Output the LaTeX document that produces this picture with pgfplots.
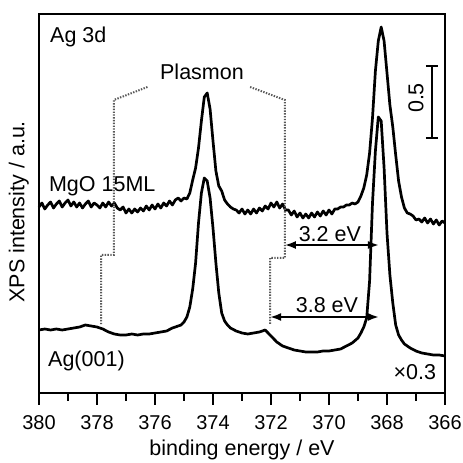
\documentclass[border=0pt]{standalone}
\usepackage{pgfplots}
\pgfplotsset{compat=1.18}
\usepackage{pgfplotstable}
\usepackage{fontspec}
\setmainfont{Liberation Sans}
\usetikzlibrary{arrows.meta}

% MgO 15ML on Ag(001), Ag 3d
\pgfplotstableread{
E I
380.0 186
379.9 190
379.8 184
379.7 188
379.6 191
379.5 185
379.4 189
379.3 192
379.2 186
379.1 190
379.0 193
378.9 187
378.8 191
378.7 186
378.6 190
378.5 185
378.4 189
378.3 192
378.2 186
378.1 190
378.0 188
377.9 185
377.8 190
377.7 186
377.6 191
377.5 187
377.4 190
377.3 185
377.2 183
377.1 186
377.0 180
376.9 184
376.8 180
376.7 184
376.6 181
376.5 185
376.4 182
376.3 187
376.2 183
376.1 188
376.0 184
375.9 189
375.8 185
375.7 190
375.6 187
375.5 192
375.4 188
375.3 193
375.2 195
375.1 192
375.0 195
374.9 194
374.8 200
374.7 213
374.6 225
374.5 245
374.4 272
374.3 296
374.2 300
374.1 284
374.0 252
373.9 222
373.8 207
373.7 202
373.6 193
373.5 189
373.4 186
373.3 184
373.2 183
373.1 180
373.0 184
372.9 179
372.8 183
372.7 179
372.6 184
372.5 180
372.4 185
372.3 182
372.2 187
372.1 184
372.0 190
371.9 186
371.8 191
371.7 185
371.6 189
371.5 183
371.4 183
371.3 178
371.2 182
371.1 176
371.0 180
370.9 175
370.8 179
370.7 175
370.6 180
370.5 176
370.4 181
370.3 177
370.2 182
370.1 178
370.0 183
369.9 179
369.8 184
369.7 184
369.6 186
369.5 186
369.4 188
369.3 188
369.2 190
369.1 189
369.0 191
368.9 197
368.8 205
368.7 218
368.6 240
368.5 275
368.4 322
368.3 352
368.2 366
368.1 352
368.0 320
367.9 288
367.8 266
367.7 238
367.6 212
367.5 196
367.4 185
367.3 180
367.2 179
367.1 177
367.0 173
366.9 174
366.8 171
366.7 175
366.6 170
366.5 174
366.4 169
366.3 173
366.2 168
366.1 172
366.0 170
}\mgo

% clean Ag(001), x0.3
\pgfplotstableread{
E I
380.0 63
379.8 64
379.6 63
379.4 64
379.2 63
379.0 64
378.8 65
378.6 66
378.4 68
378.2 67
378.0 66
377.8 64
377.6 61
377.4 59
377.2 58
377.0 58
376.8 59
376.6 58
376.4 59
376.2 59
376.0 60
375.8 61
375.6 62
375.4 65
375.2 67
375.1 68
375.0 71
374.9 76
374.8 86
374.7 104
374.6 130
374.5 170
374.4 200
374.3 215
374.2 212
374.1 195
374.0 165
373.9 130
373.8 100
373.7 80
373.6 72
373.5 68
373.4 65
373.2 62
373.0 60
372.8 59
372.6 60
372.4 61
372.2 63
372.1 60
372.0 57
371.8 51
371.6 47
371.4 45
371.2 43
371.0 42
370.8 41
370.6 41
370.4 41
370.2 42
370.0 42
369.8 43
369.6 44
369.4 47
369.2 50
369.0 55
368.9 60
368.8 66
368.7 75
368.6 112
368.5 190
368.4 242
368.3 276
368.2 272
368.1 225
368.0 160
367.9 118
367.8 90
367.7 68
367.6 58
367.5 53
367.4 49
367.2 45
367.0 42
366.8 40
366.6 39
366.4 38
366.2 38
366.0 37
}\agclean

\begin{document}
\begin{tikzpicture}
\begin{axis}[
 scale only axis,width=406pt,height=379pt,
 x dir=reverse,xmin=366,xmax=380,ymin=0,ymax=379,
 xtick={366,368,...,380},minor xtick={367,369,...,379},
 xtick pos=bottom,ytick=\empty,tick align=outside,
 major tick length=12pt,minor tick length=8pt,
 axis line style={line width=2.8pt},
 every tick/.style={black,line width=2.4pt},
 /pgf/number format/assume math mode=true,
 ticklabel style={font=\fontsize{20}{23}\selectfont},
 xticklabel style={anchor=north,inner sep=0pt,yshift=-10pt},
 label style={font=\fontsize{21.5}{25}\selectfont},
 xlabel={binding energy / eV},ylabel={XPS intensity / a.u.},
 xlabel style={at={(axis description cs:0.5,-0.1636)},anchor=base},
 ylabel style={at={(axis description cs:-0.05,0.478)},anchor=center},
 clip=false]
 \addplot[black,line width=2.7pt,line join=round] table[x=E,y=I] {\mgo};
 \addplot[black,line width=2.7pt,line join=round] table[x=E,y=I] {\agclean};
 % plasmon guides
 \draw[gray!70!black,dash pattern=on 1.4pt off 1.4pt,line width=2pt]
   (axis cs:376.26,306) -- (axis cs:377.42,293) -- (axis cs:377.42,138)
   -- (axis cs:377.86,138) -- (axis cs:377.86,68);
 \draw[gray!70!black,dash pattern=on 1.4pt off 1.4pt,line width=2pt]
   (axis cs:372.72,306) -- (axis cs:371.52,293) -- (axis cs:371.52,135)
   -- (axis cs:372.03,135) -- (axis cs:372.03,68);
 % shifts
 \draw[{Latex[length=11pt,width=8pt]}-{Latex[length=11pt,width=8pt]},line width=1.8pt]
   (axis cs:371.52,148) -- (axis cs:368.28,148);
 \draw[{Latex[length=11pt,width=8pt]}-{Latex[length=11pt,width=8pt]},line width=1.8pt]
   (axis cs:372.03,76) -- (axis cs:368.28,76);
 % scale bar
 \draw[line width=2.4pt] (axis cs:366.45,327) -- (axis cs:366.45,255);
 \draw[line width=2.4pt] (axis cs:366.66,327) -- (axis cs:366.24,327);
 \draw[line width=2.4pt] (axis cs:366.66,255) -- (axis cs:366.24,255);
 \begin{scope}[every node/.style={font=\fontsize{21.5}{25}\selectfont,inner sep=0pt}]
 \node[anchor=west] at (axis cs:379.62,356) {Ag 3d};
 \node at (axis cs:374.38,321) {Plasmon};
 \node[anchor=west] at (axis cs:379.66,207) {MgO 15ML};
 \node[anchor=west] at (axis cs:379.69,32) {Ag(001)};
 \node[anchor=east] at (axis cs:366.30,21) {×0.3};
 \node at (axis cs:369.97,159) {3.2 eV};
 \node at (axis cs:370.07,88) {3.8 eV};
 \node[rotate=90] at (axis cs:367.0,295) {0.5};
 \end{scope}
\end{axis}
\path ([shift={(-39pt,14pt)}]current axis.north west)
  rectangle ([shift={(18pt,-66pt)}]current axis.south east);
\end{tikzpicture}
\end{document}
